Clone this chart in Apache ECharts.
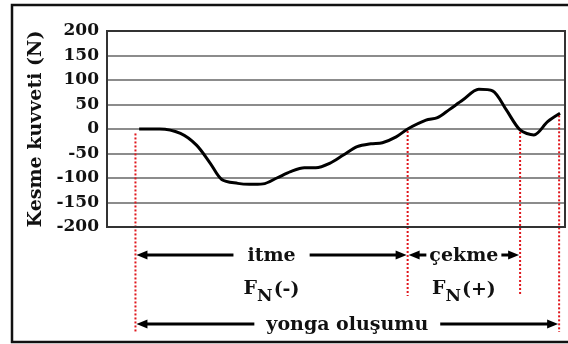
<!DOCTYPE html>
<html>
<head>
<meta charset="utf-8">
<script src="https://cdn.jsdelivr.net/npm/echarts@6/dist/echarts.min.js"></script>
<style>
html,body{margin:0;padding:0;background:#fff}
#c{width:568px;height:344px}
</style>
</head>
<body>
<div id="c"></div>
<script>
// Shear force over one chip-formation cycle
const xPos  = [7, 11.5, 16, 19.5, 22.5, 25, 28.5, 31, 34, 37, 40, 43, 45.5, 48.5, 51.5, 54.5, 57.5, 60, 63, 65.5, 69.5, 72, 74.5, 77.5, 81, 84, 87, 90, 93, 96, 98.7];
const force = [0, 0, -9, -33, -70, -103, -111, -113, -112, -100, -87, -79, -79, -70, -53, -36, -30, -28, -16, 0, 18, 23, 39, 59, 81, 78, 39, -2, -12, 15, 32];
const yTicks = [-200, -150, -100, -50, 0, 50, 100, 150, 200];

// Phase boundaries (x) and the force level where each dotted marker starts
const phaseX   = [6.2, 65.5, 90, 98.5];
const phaseTop = [-5, 0, -2, 32];

const yTitle   = 'Kesme kuvveti (N)';
const pushText = 'itme';
const pullText = 'çekme';
const chipText = 'yonga oluşumu';
const pushSign = '(-)';
const pullSign = '(+)';

const FONT = 'DejaVu Serif';
const X_MIN = 0, X_MAX = 100;
const chart = echarts.init(document.getElementById('c'));

chart.setOption({
  animation: false,
  grid: { left: 107, top: 31, right: 2, bottom: 117 },
  xAxis: { type: 'value', min: X_MIN, max: X_MAX, show: false },
  yAxis: {
    type: 'value',
    min: yTicks[0], max: yTicks[yTicks.length - 1], interval: yTicks[1] - yTicks[0],
    axisLine: { show: false }, axisTick: { show: false },
    axisLabel: { color: '#111', fontFamily: FONT, fontWeight: 'bold', fontSize: 17, margin: 8 },
    splitLine: { lineStyle: { color: '#8c8c8c', width: 2 } },
    name: yTitle, nameLocation: 'middle', nameRotate: 90, nameGap: 59,
    nameTextStyle: { color: '#111', fontFamily: FONT, fontWeight: 'bold', fontSize: 19 }
  },
  series: [{
    type: 'line',
    data: xPos.map((x, i) => [x, force[i]]),
    showSymbol: false,
    smooth: 0.3,
    lineStyle: { color: '#000', width: 3 }
  }]
});

const ctx = document.createElement('canvas').getContext('2d');
function textW(str, size) {
  ctx.font = 'bold ' + size + 'px "' + FONT + '"';
  return ctx.measureText(str).width;
}
const px = (x, y) => chart.convertToPixel({ gridIndex: 0 }, [x, y]);

const elements = [];
const TXT = { fill: '#111', fontFamily: FONT, fontWeight: 'bold' };

// outer frame
elements.push({ type: 'rect', shape: { x: 12, y: 5, width: 562, height: 337 },
  style: { fill: null, stroke: '#111', lineWidth: 2.5 }, silent: true });

// plot frame
const tl = px(X_MIN, yTicks[yTicks.length - 1]);
const br = px(X_MAX, yTicks[0]);
elements.push({ type: 'rect', shape: { x: tl[0], y: tl[1], width: br[0] - tl[0] - 1, height: br[1] - tl[1] },
  style: { fill: null, stroke: '#333', lineWidth: 2 }, silent: true, z: 10 });

// dotted phase markers
const markX = phaseX.map((x, i) => px(x, phaseTop[i])[0]);
const markBottom = [332, 296, 296, 332];
phaseX.forEach((x, i) => {
  const p = px(x, phaseTop[i]);
  elements.push({ type: 'line', shape: { x1: p[0], y1: p[1] + 2, x2: p[0], y2: markBottom[i] },
    style: { stroke: '#e0161c', lineWidth: 2, lineDash: [2, 2] }, silent: true });
});

// horizontal arrow with one head
function arrow(xa, xb, y, head) {
  const L = 11, H = 4.5;
  let x1 = xa, x2 = xb;
  if (head === 'left') x1 += L - 1; else x2 -= L - 1;
  elements.push({ type: 'line', shape: { x1, y1: y, x2, y2: y },
    style: { stroke: '#000', lineWidth: 3 }, silent: true });
  const tip = head === 'left' ? xa : xb;
  const base = head === 'left' ? xa + L : xb - L;
  elements.push({ type: 'polygon', shape: { points: [[tip, y], [base, y - H], [base, y + H]] },
    style: { fill: '#000' }, silent: true });
}

function labelRow(left, right, y, text, size, gap) {
  const mid = (left + right) / 2;
  const w = textW(text, size);
  elements.push({ type: 'text', x: mid, y: y + 1,
    style: Object.assign({ text, fontSize: size, align: 'center', verticalAlign: 'middle' }, TXT), silent: true });
  arrow(left + 1, mid - w / 2 - gap, y, 'left');
  arrow(mid + w / 2 + gap, right - 1, y, 'right');
}

const row1 = 255, row2 = 289, row3 = 324;
labelRow(markX[0], markX[1], row1, pushText, 19, 14);
labelRow(markX[1], markX[2], row1, pullText, 19, 3);
labelRow(markX[0], markX[3], row3, chipText, 19, 12);

// F with subscript N and sign
function forceLabel(center, sign) {
  const fw = textW('F', 19), nw = textW('N', 17), sw = textW(sign, 19);
  const total = fw + nw + sw + 1;
  let x = center - total / 2;
  elements.push({ type: 'text', x, y: row2, style: Object.assign({ text: 'F', fontSize: 19, align: 'left', verticalAlign: 'middle' }, TXT), silent: true });
  x += fw;
  elements.push({ type: 'text', x, y: row2 + 8, style: Object.assign({ text: 'N', fontSize: 17, align: 'left', verticalAlign: 'middle' }, TXT), silent: true });
  x += nw + 1;
  elements.push({ type: 'text', x, y: row2 + 1, style: Object.assign({ text: sign, fontSize: 19, align: 'left', verticalAlign: 'middle' }, TXT), silent: true });
}
forceLabel((markX[0] + markX[1]) / 2, pushSign);
forceLabel((markX[1] + markX[2]) / 2, pullSign);

chart.setOption({ graphic: { elements } });
</script>
</body>
</html>
